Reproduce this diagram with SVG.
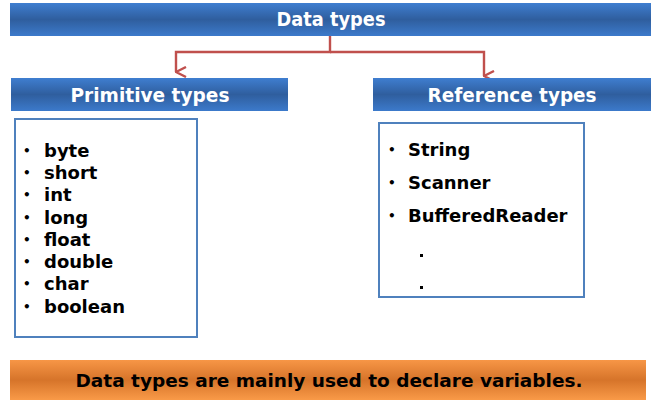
<svg xmlns="http://www.w3.org/2000/svg" width="656" height="406" viewBox="0 0 656 406">
<defs>
<linearGradient id="gb" x1="0" y1="0" x2="0" y2="1">
<stop offset="0" stop-color="#3F7ED0"/>
<stop offset="0.5" stop-color="#2F5E9E"/>
<stop offset="1" stop-color="#3C7ACB"/>
</linearGradient>
<linearGradient id="go" x1="0" y1="0" x2="0" y2="1">
<stop offset="0" stop-color="#F79646"/>
<stop offset="0.5" stop-color="#D6742A"/>
<stop offset="1" stop-color="#F99A48"/>
</linearGradient>
<marker id="ah" viewBox="0 0 12 12" refX="6" refY="11" markerWidth="12" markerHeight="12" markerUnits="userSpaceOnUse" orient="auto-start-reverse">
<path d="M1,1 L6,11 L11,1" fill="none" stroke="#C0504D" stroke-width="2.4"/>
</marker>
<style>
.bar{fill:url(#gb)}
.hd{font-family:"DejaVu Sans Condensed","DejaVu Sans",sans-serif;font-weight:bold;font-size:19px;fill:#fff;text-anchor:middle}
.box{fill:#fff;stroke:#4F81BD;stroke-width:2}
.it{font-family:"DejaVu Sans",Verdana,sans-serif;font-weight:bold;font-size:18px;fill:#000}
.bu{font-family:"DejaVu Sans",sans-serif;font-weight:bold;font-size:12px;fill:#000}
.cn{fill:none;stroke:#C0504D;stroke-width:2.4}
</style>
</defs>
<g id="connectors">
<path class="cn" d="M330,36 V52 H176 V72" marker-end="url(#ah)"/>
<path class="cn" d="M330,52 H484 V76" marker-end="url(#ah)"/>
</g>
<g id="data-types">
<rect class="bar" x="10" y="3" width="641" height="33"/>
<text class="hd" x="331" y="26" textLength="109" lengthAdjust="spacingAndGlyphs">Data types</text>
</g>
<g id="primitive-types">
<rect class="bar" x="11" y="78" width="277" height="33"/>
<text class="hd" x="150" y="102" textLength="159" lengthAdjust="spacingAndGlyphs">Primitive types</text>
</g>
<g id="reference-types">
<rect class="bar" x="373" y="78" width="278" height="33"/>
<text class="hd" x="512" y="102" textLength="169" lengthAdjust="spacingAndGlyphs">Reference types</text>
</g>
<g id="primitive-list">
<rect class="box" x="15" y="119" width="182" height="218"/>
<g class="bu">
<text x="23" y="155">•</text><text x="23" y="177">•</text><text x="23" y="199">•</text><text x="23" y="222">•</text>
<text x="23" y="244">•</text><text x="23" y="266">•</text><text x="23" y="288">•</text><text x="23" y="311">•</text>
</g>
<g class="it">
<text x="44" y="157">byte</text>
<text x="44" y="179">short</text>
<text x="44" y="201">int</text>
<text x="44" y="224">long</text>
<text x="44" y="246">float</text>
<text x="44" y="268">double</text>
<text x="44" y="290">char</text>
<text x="44" y="313">boolean</text>
</g>
</g>
<g id="reference-list">
<rect class="box" x="379" y="123" width="205" height="174"/>
<g class="bu">
<text x="388" y="154">•</text><text x="388" y="187">•</text><text x="388" y="220">•</text>
</g>
<g class="it">
<text x="408" y="156">String</text>
<text x="408" y="189">Scanner</text>
<text x="408" y="222">BufferedReader</text>
</g>
<rect x="420" y="254" width="3" height="3" fill="#000"/>
<rect x="420" y="286" width="3" height="3" fill="#000"/>
</g>
<g id="note">
<rect x="10" y="360" width="636" height="40" fill="url(#go)"/>
<text x="329" y="387" font-family="'DejaVu Sans Condensed','DejaVu Sans',sans-serif" font-weight="bold" font-size="18" fill="#000" text-anchor="middle" textLength="507" lengthAdjust="spacingAndGlyphs">Data types are mainly used to declare variables.</text>
</g>
</svg>
